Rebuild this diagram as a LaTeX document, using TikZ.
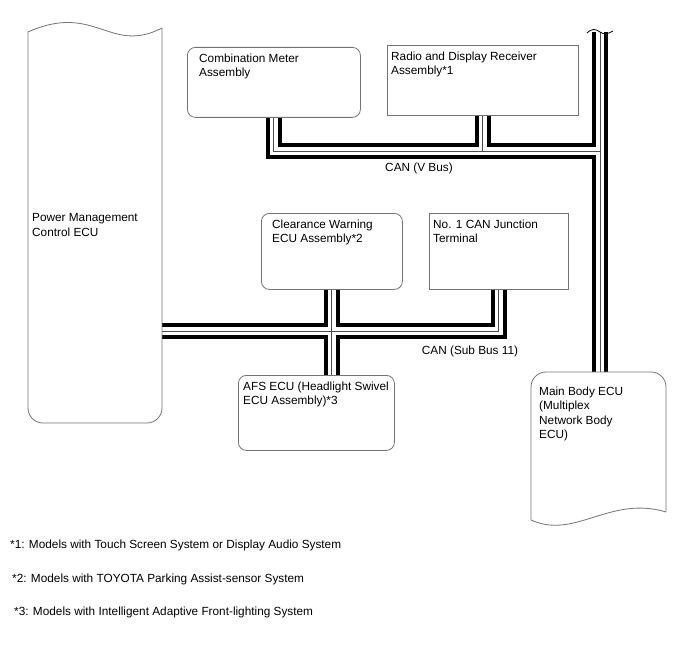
\documentclass[tikz,border=0pt]{standalone}
\usepackage{fontspec}
\setmainfont{Liberation Sans}
\usetikzlibrary{positioning, calc, backgrounds}
\newcommand\ecufont{\fontsize{11.8}{14.5}\selectfont}

\begin{document}
\begin{tikzpicture}[
  x=1pt, y=-1pt,
  ecubox/.style={draw=black!55, line width=0.8pt, rounded corners=8pt,
                 anchor=north west, inner sep=0pt},
  termbox/.style={ecubox, sharp corners},
  ecutext/.style={anchor=north west, align=left, inner xsep=4pt,
                  inner ysep=6.5pt, font=\ecufont},
  docline/.style={draw=black!55, line width=0.8pt},
  buswire/.style={line width=15.5pt, black},
  busgap/.style={line width=8pt, white},
  buscore/.style={line width=0.9pt, black!70},
  buslabel/.style={font=\ecufont, inner sep=0pt},
  note/.style={font=\ecufont, anchor=west, inner sep=0pt}
]
\useasboundingbox (0,0) rectangle (688,658);

% === ECU boxes ===
\node[ecubox, minimum width=173, minimum height=70,
  label={[ecutext, xshift=8pt]north west:Combination Meter\\Assembly}] (meter) at (187,47) {};
\node[termbox, minimum width=191, minimum height=70,
  label={[ecutext]north west:Radio and Display Receiver\\Assembly*1}] (radio) at (387,45) {};
\node[ecubox, minimum width=141, minimum height=76,
  label={[ecutext, xshift=7pt]north west:Clearance Warning\\ECU Assembly*2}] (clearance) at (261,213) {};
\node[termbox, minimum width=139, minimum height=76,
  label={[ecutext]north west:No. 1 CAN Junction\\Terminal}] (junction) at (429,213) {};
\node[ecubox, minimum width=156, minimum height=75,
  label={[ecutext, xshift=1pt]north west:AFS ECU (Headlight Swivel\\ECU Assembly)*3}] (afs) at (238,375) {};

% === Power Management Control ECU (document shape) ===
\draw[docline] (28,32) .. controls (95,2) and (110,55) .. (162,28);
\draw[docline, rounded corners=15pt] (28,32) -- (28,423) -- (162,423) -- (162,28);
\node[ecutext] (pmecu) at (28,207) {Power Management\\Control ECU};

% === Main Body ECU (document shape) ===
\draw[docline, rounded corners=15pt] (531,520) -- (531,372) -- (666,372) -- (666,512);
\draw[docline] (531,520) .. controls (575,540) and (610,495) .. (666,512);
\node[ecutext] (mainbody) at (535,380) {Main Body ECU\\(Multiplex\\Network Body\\ECU)};

% === CAN buses ===
\coordinate (trunk top) at (600,32);
\coordinate (trunk end) at (600,372);
\coordinate (vbus row) at (0,151);
\coordinate (pm port) at (162,331);

\begin{scope}[on background layer]
\foreach \layer in {buswire, busgap, buscore} {
  \draw[\layer] (meter.south) |- (trunk top |- vbus row);
  \draw[\layer] (radio.south) -- (radio.south |- vbus row);
  \draw[\layer] (trunk top) -- (trunk end);
  \draw[\layer] (pm port) -| (junction.south);
  \draw[\layer] (clearance.south) -- (afs.north -| clearance.south);
}
\end{scope}

% break mark on top of the trunk
\draw[line width=0.8pt] (587,33) .. controls (592,28) and (596,29) .. (600,32)
  .. controls (604,35) and (608,34) .. (613,31);

\node[buslabel] (vbus label) at (419,168) {CAN (V Bus)};
\node[buslabel] (subbus label) at (470,351) {CAN (Sub Bus 11)};

% === Footnotes ===
\node[note] (note1) at (10,545) {*1: Models with Touch Screen System or Display Audio System};
\node[note] (note2) at (12,579) {*2: Models with TOYOTA Parking Assist-sensor System};
\node[note] (note3) at (14,612) {*3: Models with Intelligent Adaptive Front-lighting System};

\end{tikzpicture}
\end{document}
